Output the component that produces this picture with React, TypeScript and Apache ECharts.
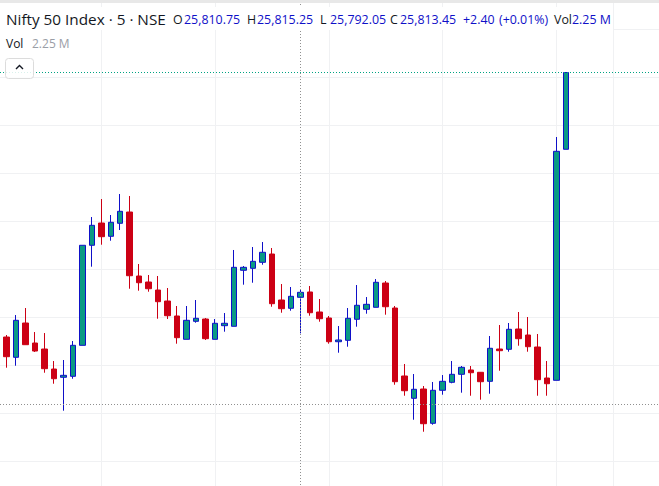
import React, { useEffect, useRef } from "react";
import * as echarts from "echarts";

const opens = [25755.83,25751.6,25758.75,25754.58,25753.33,25749.16,25747.44,25747.64,25754.1,25774.94,25779.58,25776.81,25779.52,25781.87,25768.54,25767.29,25765.62,25763.33,25760.21,25755.35,25759.1,25759.58,25755.35,25758.19,25758.06,25769.73,25770.14,25771.39,25773.12,25763.54,25761.81,25764.1,25765.21,25761.04,25759.79,25754.85,25755.14,25759.52,25761.6,25762.02,25767.08,25761.87,25747.71,25743.06,25745,25737.85,25744.73,25746.39,25748.06,25748.96,25748.48,25746.6,25753.33,25753.27,25757.5,25756.25,25753.75,25747.29,25746.81,25794.94];
const closes = [25751.73,25759.31,25754.23,25752.91,25749.23,25747.14,25747.85,25754.1,25774.94,25779.1,25776.73,25779.73,25782.02,25768.6,25767.14,25765.89,25763.19,25760.27,25755.69,25759.31,25759.73,25755.48,25758.69,25758.69,25770.35,25770.35,25771.6,25773.48,25762.77,25761.73,25764.31,25765.14,25760.89,25759.64,25754.85,25755.21,25759.73,25762.44,25762.64,25767.23,25762.14,25746.52,25744.64,25744.94,25737.77,25744.73,25746.6,25748.06,25749.52,25748.39,25746.52,25753.48,25752.98,25757.44,25755.48,25753.81,25746.94,25746.1,25794.52,25810.94];
const lows = [25749.44,25749.85,25754.23,25752.71,25748.39,25746.1,25740.48,25747.14,25754.1,25770.48,25775.06,25775.89,25778.12,25765.89,25765.48,25765.27,25759.64,25759.58,25754.44,25755.35,25758.81,25755.21,25755.35,25756.94,25758.06,25766.73,25767.14,25770.89,25762.14,25760.89,25761.31,25756.6,25760.27,25759.02,25754.44,25752.56,25753.81,25757.98,25760.69,25762.02,25760.48,25745.89,25743.6,25738.6,25736.1,25737.56,25743.81,25746.19,25744.23,25743.6,25742.77,25744.02,25748.81,25752.77,25754.02,25752.77,25743.6,25743.6,25746.81,25794.94];
const highs = [25756.25,25760.41,25761.87,25756.87,25756.66,25750.83,25751.04,25755,25774.94,25780.83,25784.58,25781.25,25785.62,25785.21,25771.04,25768.75,25768.54,25766.04,25762.29,25762.29,25763.54,25759.79,25759.58,25760.83,25773.96,25770.62,25774.58,25775.62,25774.37,25766.87,25766.25,25765.83,25766.46,25763.75,25760.21,25758.12,25761.87,25766.66,25764.16,25767.91,25767.5,25762.29,25750.21,25748.12,25745.62,25746.46,25747.91,25750.83,25749.79,25749.79,25748.54,25756.04,25758.33,25758.75,25761.04,25760,25756.46,25750.83,25797.5,25810.94];

const leadingSlots = 1;
const trailingSlots = 10;
const verticalGridSlots = [11, 23, 35, 47, 59, 65];
const crosshairSlot = 32;
const crosshairPrice = 25741.77;
const lastPrice = 25810.94;

const BLUE = "#0f10c8";
const DARK = "#131722";
const FONT = "'Open Sans', sans-serif";

const legendPieces: [string, number, string][] = [
  ["O", 173, DARK],
  ["25,810.75", 184, BLUE],
  ["H", 247, DARK],
  ["25,815.25", 257, BLUE],
  ["L", 320, DARK],
  ["25,792.05", 330, BLUE],
  ["C", 390, DARK],
  ["25,813.45", 400, BLUE],
  ["+2.40", 463, BLUE],
  ["(+0.01%)", 499, BLUE],
  ["Vol", 554, DARK],
  ["2.25 M", 572, BLUE],
];

export default function App() {
  const ref = useRef<HTMLDivElement>(null);
  useEffect(() => {
    if (!ref.current) return;
    const chart = echarts.init(ref.current, undefined, { renderer: "svg" });
    const candles = opens.map((o, i) => [o, closes[i], lows[i], highs[i]]);
    const blank = [NaN, NaN, NaN, NaN];
    const data = [
      ...Array.from({ length: leadingSlots }, () => blank),
      ...candles,
      ...Array.from({ length: trailingSlots }, () => blank),
    ];
    const categories = data.map((_, i) => String(i));
    const gridStyle = { color: "#f0f1f3", width: 1 };
    const text = (t: string, x: number, y: number, fill: string, fontSize: number) => ({
      type: "text",
      x,
      y,
      z: 20,
      silent: true,
      style: { text: t, fill, fontSize, fontFamily: FONT, textVerticalAlign: "middle" },
    });
    const guide = (name: string, color: string, items: object[]) => ({
      type: "line",
      name,
      data: [],
      silent: true,
      markLine: {
        silent: true,
        symbol: "none",
        label: { show: false },
        animation: false,
        lineStyle: { color, width: 1, type: [1, 2], opacity: 1 },
        data: items,
      },
    });
    chart.setOption({
      animation: false,
      backgroundColor: "#ffffff",
      grid: { left: -3.0, top: -19, width: 663.6, height: 528, containLabel: false, outerBoundsMode: "none" },
      xAxis: {
        type: "category",
        data: categories,
        boundaryGap: false,
        axisLine: { show: false },
        axisTick: { show: false },
        axisLabel: { show: false },
        splitLine: {
          show: true,
          lineStyle: gridStyle,
          interval: (index: number) => verticalGridSlots.includes(index),
        },
      },
      yAxis: {
        type: "value",
        min: 25720,
        max: 25830,
        interval: 10,
        axisLine: { show: false },
        axisTick: { show: false },
        axisLabel: { show: false },
        splitLine: { show: true, lineStyle: gridStyle },
      },
      series: [
        {
          type: "candlestick",
          data,
          barWidth: 6,
          clip: false,
          silent: true,
          itemStyle: {
            color: "#0a9a84",
            color0: "#cc0014",
            borderColor: BLUE,
            borderColor0: "#cc0014",
            borderWidth: 1,
          },
        },
        guide("last", "#00a383", [{ yAxis: lastPrice }]),
        guide("crosshair", "#909090", [{ yAxis: crosshairPrice }, { xAxis: crosshairSlot }]),
      ],
      graphic: [
        { type: "rect", z: 10, silent: true, shape: { x: 0, y: 7, width: 613, height: 23 }, style: { fill: "#ffffff" } },
        { type: "rect", z: 11, silent: true, shape: { x: 0, y: 0, width: 659, height: 3 }, style: { fill: "#e8e8e8" } },
        {
          type: "rect",
          z: 12,
          silent: true,
          shape: { x: 5.5, y: 58.5, width: 28, height: 20, r: 3 },
          style: { fill: "rgba(255,255,255,0.85)", stroke: "#dcdcdc", lineWidth: 1 },
        },
        {
          type: "polyline",
          z: 13,
          silent: true,
          shape: { points: [[16, 69], [19.5, 65.5], [23, 69]] },
          style: { stroke: DARK, lineWidth: 1.4, fill: "none" },
        },
        text("Nifty 50 Index · 5 · NSE", 6, 19, DARK, 15.3),
        ...legendPieces.map(([t, x, c]) => text(t, x, 19, c, 12.4)),
        text("Vol", 6, 43, DARK, 12),
        text("2.25 M", 32, 43, "#9a9ea6", 12),
      ],
    });
    return () => chart.dispose();
  }, []);
  return (
    <div
      ref={ref}
      style={{ position: "fixed", left: 0, top: 0, width: 659, height: 486 }}
    />
  );
}
